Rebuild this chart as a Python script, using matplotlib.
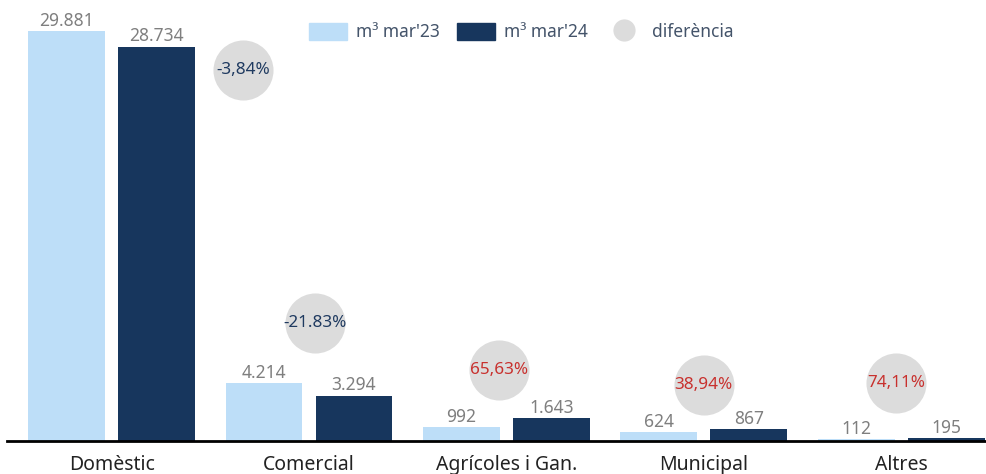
import matplotlib
matplotlib.use("Agg")
import matplotlib.pyplot as plt
from matplotlib.patches import Patch
from matplotlib.lines import Line2D
import numpy as np

categories = ["Domèstic", "Comercial", "Agrícoles i Gan.", "Municipal", "Altres"]
m3_mar23 = [29881, 4214, 992, 624, 112]
m3_mar24 = [28734, 3294, 1643, 867, 195]
labels_23 = ["29.881", "4.214", "992", "624", "112"]
labels_24 = ["28.734", "3.294", "1.643", "867", "195"]
diferencia = ["-3,84%", "-21.83%", "65,63%", "38,94%", "74,11%"]
dif_sign = [-1, -1, 1, 1, 1]

# posició de les bombolles (com a l'original, col·locades a mà)
bubble_x = [0.665, 1.03, 1.965, 3.0, 3.975]
bubble_y = [27050, 8600, 5180, 4090, 4230]

LIGHT = "#bddef8"
DARK = "#17365d"
GREY = "#dcdcdc"
LABEL = "#7f7f7f"
NAVY = "#1f3a60"
RED = "#c8312e"
LEG_TXT = "#44546a"

plt.rcParams["font.family"] = ["Noto Sans", "DejaVu Sans"]

fig = plt.figure(figsize=(9.87, 4.74), dpi=100, facecolor="white")
ax = fig.add_axes([7 / 987, 33 / 474, 1 - 7 / 987, 1 - 33 / 474])

x = np.arange(len(categories))
w = 0.39
off = 0.228
ax.bar(x - off, m3_mar23, width=w, color=LIGHT, zorder=2)
ax.bar(x + off, m3_mar24, width=w, color=DARK, zorder=2)

for i in range(len(categories)):
    ax.annotate(labels_23[i], (x[i] - off, m3_mar23[i]), xytext=(0, 1),
                textcoords="offset points", ha="center", va="bottom",
                color=LABEL, fontsize=12.5, fontweight="light")
    ax.annotate(labels_24[i], (x[i] + off, m3_mar24[i]), xytext=(0, 1),
                textcoords="offset points", ha="center", va="bottom",
                color=LABEL, fontsize=12.5, fontweight="light")

ax.scatter(bubble_x, bubble_y, s=1870, color=GREY, zorder=3, linewidths=0)
for bx, by, t, sg in zip(bubble_x, bubble_y, diferencia, dif_sign):
    ax.text(bx, by, t, ha="center", va="center", fontsize=12.3,
            color=RED if sg > 0 else NAVY, zorder=4)

ax.set_xlim(-0.53, 4.435)
ax.set_ylim(0, 32140)
ax.set_yticks([])
ax.set_xticks(x)
ax.set_xticklabels(categories, fontsize=14, color="#222222")
ax.tick_params(axis="x", length=0, pad=10)
for s in ["top", "right", "left"]:
    ax.spines[s].set_visible(False)
ax.spines["bottom"].set_linewidth(2)
ax.spines["bottom"].set_color("black")
ax.spines["bottom"].set_zorder(5)

handles = [Patch(color=LIGHT, label="m³ mar'23"),
           Patch(color=DARK, label="m³ mar'24"),
           Line2D([], [], marker="o", linestyle="", markersize=16,
                  markerfacecolor=GREY, markeredgewidth=0, label="diferència")]
leg = fig.legend(handles=handles, loc="center", bbox_to_anchor=(521 / 987, 1 - 32 / 474),
                 ncol=3, frameon=False, fontsize=12.5, handlelength=2.2,
                 handleheight=1.1, handletextpad=0.5, columnspacing=1.0)
for t in leg.get_texts():
    t.set_color(LEG_TXT)
    t.set_fontweight("semibold")

fig.savefig("out.png", dpi=100, facecolor="white")
